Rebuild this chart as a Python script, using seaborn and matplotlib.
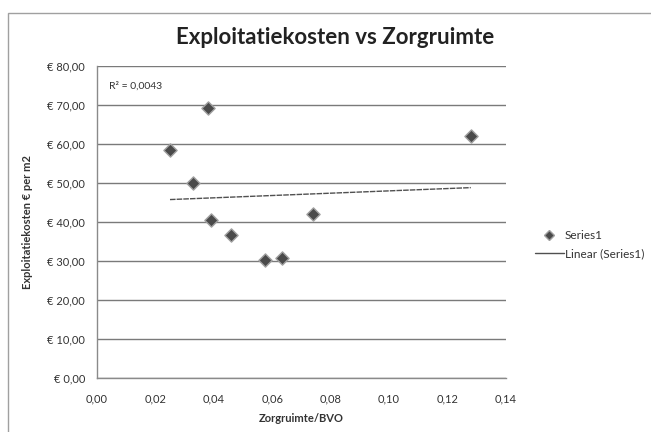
import matplotlib
matplotlib.use("Agg")
import matplotlib.pyplot as plt
import seaborn as sns
import numpy as np
import pandas as pd
from matplotlib.lines import Line2D
from matplotlib.patches import Rectangle

# Data
zorgruimte_bvo = [0.025, 0.038, 0.033, 0.039, 0.046, 0.0576, 0.0635, 0.074, 0.128]
kosten_per_m2 = [58.5, 69.2, 50.0, 40.6, 36.7, 30.2, 30.9, 42.1, 62.0]
x_ticks = [0.00, 0.02, 0.04, 0.06, 0.08, 0.10, 0.12, 0.14]
y_ticks = [0, 10, 20, 30, 40, 50, 60, 70, 80]
r2_text = "R² = 0,0043"

df = pd.DataFrame({"x": zorgruimte_bvo, "y": kosten_per_m2})

sns.set_style("white")
plt.rcParams['font.family'] = ['Lato', 'DejaVu Sans']

fig = plt.figure(figsize=(6.51, 4.32), dpi=100)
ax = fig.add_axes([0.149, 0.125, 0.628, 0.722])

# chart border
fig.patches.append(Rectangle((0.012, -0.01), 0.995, 0.98, transform=fig.transFigure,
                             fill=False, edgecolor='#a0a0a0', linewidth=1.0))

sns.regplot(data=df, x="x", y="y", scatter=False, ci=None, ax=ax,
            line_kws=dict(color='#505050', linewidth=1.0, linestyle=(0, (4, 0.8))))
sns.scatterplot(data=df, x="x", y="y", ax=ax, marker='D', s=45,
                color='#4a4a4a', edgecolor='#a0a0a0', linewidth=1.0, zorder=5)

ax.set_xlim(0, 0.14)
ax.set_ylim(0, 80)
ax.set_xticks(x_ticks)
ax.set_yticks(y_ticks)
ax.set_xticklabels([f"{v:.2f}".replace('.', ',') for v in x_ticks], fontsize=8, color='#333333')
ax.set_yticklabels([f"€ {v:.2f}".replace('.', ',') for v in y_ticks], fontsize=8, color='#333333')
ax.yaxis.grid(True, color='#7a7a7a', linewidth=1.0)
ax.xaxis.grid(False)
ax.set_axisbelow(True)
for s in ['top', 'right']:
    ax.spines[s].set_visible(False)
for s in ['left', 'bottom']:
    ax.spines[s].set_color('#8a8a8a')
    ax.spines[s].set_linewidth(1.0)
ax.tick_params(axis='x', length=0, pad=11)
ax.tick_params(axis='y', length=0, pad=8.5)

ax.set_xlabel("Zorgruimte/BVO", fontsize=8, fontweight='bold', color='#333333', labelpad=6)
ax.set_ylabel("Exploitatiekosten € per m2", fontsize=8, fontweight='bold', color='#333333', labelpad=10)

ax.text(0.004, 75.0, r2_text, fontsize=7.5, color='#333333', va='center', ha='left')

fig.text(0.515, 0.914, "Exploitatiekosten vs Zorgruimte", fontsize=16, fontweight='bold',
         color='#222222', ha='center', va='center')

handles = [
    Line2D([0], [0], marker='D', linestyle='none', markersize=5,
           markerfacecolor='#4a4a4a', markeredgecolor='#a0a0a0'),
    Line2D([0], [0], color='#505050', linewidth=1.0),
]
fig.legend(handles, ["Series1", "Linear (Series1)"], loc='center left',
           bbox_to_anchor=(0.806, 0.434), frameon=False, fontsize=8.5,
           handlelength=2.4, handletextpad=0.1, labelspacing=0.6, labelcolor='#333333')

fig.savefig("out.png", dpi=100)
